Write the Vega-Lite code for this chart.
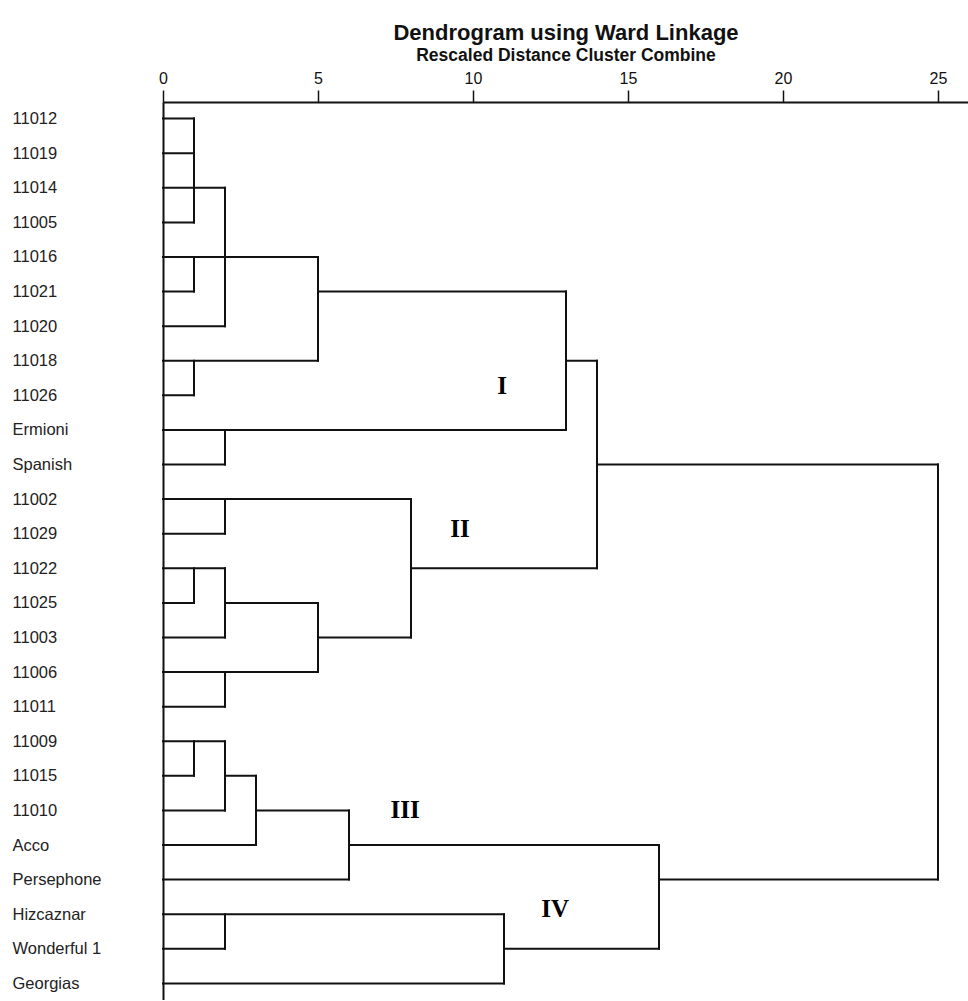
{
  "$schema": "https://vega.github.io/schema/vega-lite/v6.json",
  "width": 806,
  "height": 898,
  "padding": {"left": 12, "top": 21, "right": 0, "bottom": 0},
  "background": "white",
  "title": {
    "text": "Dendrogram using Ward Linkage",
    "subtitle": "Rescaled Distance Cluster Combine",
    "anchor": "middle",
    "font": "Liberation Sans",
    "fontSize": 22,
    "fontWeight": "bold",
    "subtitleFont": "Liberation Sans",
    "subtitleFontSize": 17.5,
    "subtitleFontWeight": "bold",
    "color": "#111",
    "subtitleColor": "#111",
    "offset": 5,
    "subtitlePadding": 2
  },
  "config": {"view": {"stroke": null}, "axis": {"grid": false}},
  "datasets": {
    "segments": [
      {"d1": 0, "d2": 1, "r1": "11012", "r2": "11012"},
      {"d1": 0, "d2": 1, "r1": "11019", "r2": "11019"},
      {"d1": 0, "d2": 2, "r1": "11014", "r2": "11014"},
      {"d1": 0, "d2": 1, "r1": "11005", "r2": "11005"},
      {"d1": 1, "d2": 1, "r1": "11012", "r2": "11005"},
      {"d1": 0, "d2": 5, "r1": "11016", "r2": "11016"},
      {"d1": 0, "d2": 1, "r1": "11021", "r2": "11021"},
      {"d1": 1, "d2": 1, "r1": "11016", "r2": "11021"},
      {"d1": 0, "d2": 2, "r1": "11020", "r2": "11020"},
      {"d1": 2, "d2": 2, "r1": "11014", "r2": "11020"},
      {"d1": 0, "d2": 5, "r1": "11018", "r2": "11018"},
      {"d1": 0, "d2": 1, "r1": "11026", "r2": "11026"},
      {"d1": 1, "d2": 1, "r1": "11018", "r2": "11026"},
      {"d1": 5, "d2": 5, "r1": "11016", "r2": "11018"},
      {"d1": 5, "d2": 13, "r1": "11021", "r2": "11021"},
      {"d1": 0, "d2": 13, "r1": "Ermioni", "r2": "Ermioni"},
      {"d1": 0, "d2": 2, "r1": "Spanish", "r2": "Spanish"},
      {"d1": 2, "d2": 2, "r1": "Ermioni", "r2": "Spanish"},
      {"d1": 13, "d2": 13, "r1": "11021", "r2": "Ermioni"},
      {"d1": 13, "d2": 14, "r1": "11018", "r2": "11018"},
      {"d1": 0, "d2": 8, "r1": "11002", "r2": "11002"},
      {"d1": 0, "d2": 2, "r1": "11029", "r2": "11029"},
      {"d1": 2, "d2": 2, "r1": "11002", "r2": "11029"},
      {"d1": 0, "d2": 2, "r1": "11022", "r2": "11022"},
      {"d1": 0, "d2": 1, "r1": "11025", "r2": "11025"},
      {"d1": 1, "d2": 1, "r1": "11022", "r2": "11025"},
      {"d1": 0, "d2": 2, "r1": "11003", "r2": "11003"},
      {"d1": 2, "d2": 2, "r1": "11022", "r2": "11003"},
      {"d1": 2, "d2": 5, "r1": "11025", "r2": "11025"},
      {"d1": 0, "d2": 5, "r1": "11006", "r2": "11006"},
      {"d1": 0, "d2": 2, "r1": "11011", "r2": "11011"},
      {"d1": 2, "d2": 2, "r1": "11006", "r2": "11011"},
      {"d1": 5, "d2": 5, "r1": "11025", "r2": "11006"},
      {"d1": 5, "d2": 8, "r1": "11003", "r2": "11003"},
      {"d1": 8, "d2": 8, "r1": "11002", "r2": "11003"},
      {"d1": 8, "d2": 14, "r1": "11022", "r2": "11022"},
      {"d1": 14, "d2": 14, "r1": "11018", "r2": "11022"},
      {"d1": 14, "d2": 25, "r1": "Spanish", "r2": "Spanish"},
      {"d1": 0, "d2": 2, "r1": "11009", "r2": "11009"},
      {"d1": 0, "d2": 1, "r1": "11015", "r2": "11015"},
      {"d1": 1, "d2": 1, "r1": "11009", "r2": "11015"},
      {"d1": 0, "d2": 2, "r1": "11010", "r2": "11010"},
      {"d1": 2, "d2": 2, "r1": "11009", "r2": "11010"},
      {"d1": 2, "d2": 3, "r1": "11015", "r2": "11015"},
      {"d1": 0, "d2": 3, "r1": "Acco", "r2": "Acco"},
      {"d1": 3, "d2": 3, "r1": "11015", "r2": "Acco"},
      {"d1": 3, "d2": 6, "r1": "11010", "r2": "11010"},
      {"d1": 0, "d2": 6, "r1": "Persephone", "r2": "Persephone"},
      {"d1": 6, "d2": 6, "r1": "11010", "r2": "Persephone"},
      {"d1": 6, "d2": 16, "r1": "Acco", "r2": "Acco"},
      {"d1": 0, "d2": 11, "r1": "Hizcaznar", "r2": "Hizcaznar"},
      {"d1": 0, "d2": 2, "r1": "Wonderful 1", "r2": "Wonderful 1"},
      {"d1": 2, "d2": 2, "r1": "Hizcaznar", "r2": "Wonderful 1"},
      {"d1": 0, "d2": 11, "r1": "Georgias", "r2": "Georgias"},
      {"d1": 11, "d2": 11, "r1": "Hizcaznar", "r2": "Georgias"},
      {"d1": 11, "d2": 16, "r1": "Wonderful 1", "r2": "Wonderful 1"},
      {"d1": 16, "d2": 16, "r1": "Acco", "r2": "Wonderful 1"},
      {"d1": 16, "d2": 25, "r1": "Persephone", "r2": "Persephone"},
      {"d1": 25, "d2": 25, "r1": "Spanish", "r2": "Persephone"}
    ],
    "clusters": [
      {"label": "I", "d": 10.94, "row": 7.73},
      {"label": "II", "d": 9.58, "row": 11.85},
      {"label": "III", "d": 7.81, "row": 19.98},
      {"label": "IV", "d": 12.65, "row": 22.84}
    ]
  },
  "layer": [
    {
      "data": {"name": "segments"},
      "mark": {"type": "rule", "color": "#111", "strokeWidth": 2, "strokeCap": "square"},
      "encoding": {
        "x": {
          "field": "d1",
          "type": "quantitative",
          "scale": {"domain": [0, 26], "nice": false, "zero": false},
          "axis": {
            "orient": "top",
            "values": [0, 5, 10, 15, 20, 25],
            "title": null,
            "tickSize": 12,
            "labelPadding": 4,
            "labelFontSize": 16,
            "labelFont": "Liberation Sans",
            "labelColor": "#111",
            "labelFlush": false,
            "domainColor": "#111",
            "domainWidth": 2,
            "tickColor": "#111",
            "tickWidth": 1.5
          }
        },
        "x2": {"field": "d2"},
        "y": {
          "field": "r1",
          "type": "nominal",
          "scale": {
            "type": "point",
            "padding": 0.48,
            "domain": ["11012", "11019", "11014", "11005", "11016", "11021", "11020", "11018", "11026", "Ermioni", "Spanish", "11002", "11029", "11022", "11025", "11003", "11006", "11011", "11009", "11015", "11010", "Acco", "Persephone", "Hizcaznar", "Wonderful 1", "Georgias"]
          },
          "axis": {
            "orient": "left",
            "title": null,
            "ticks": false,
            "tickSize": 0,
            "labelAlign": "left",
            "labelPadding": 151,
            "labelFontSize": 16.5,
            "labelFont": "Liberation Sans",
            "labelColor": "#222",
            "domainColor": "#111",
            "domainWidth": 2
          }
        },
        "y2": {"field": "r2"}
      }
    },
    {
      "data": {"name": "clusters"},
      "mark": {"type": "text", "font": "Liberation Serif", "fontWeight": "bold", "fontSize": 25, "color": "#000"},
      "encoding": {
        "x": {"field": "d", "type": "quantitative"},
        "y": {
          "field": "row",
          "type": "quantitative",
          "scale": {"domain": [-0.48, 25.48], "reverse": true, "nice": false, "zero": false},
          "axis": null
        },
        "text": {"field": "label"}
      }
    }
  ],
  "resolve": {"scale": {"y": "independent"}}
}
